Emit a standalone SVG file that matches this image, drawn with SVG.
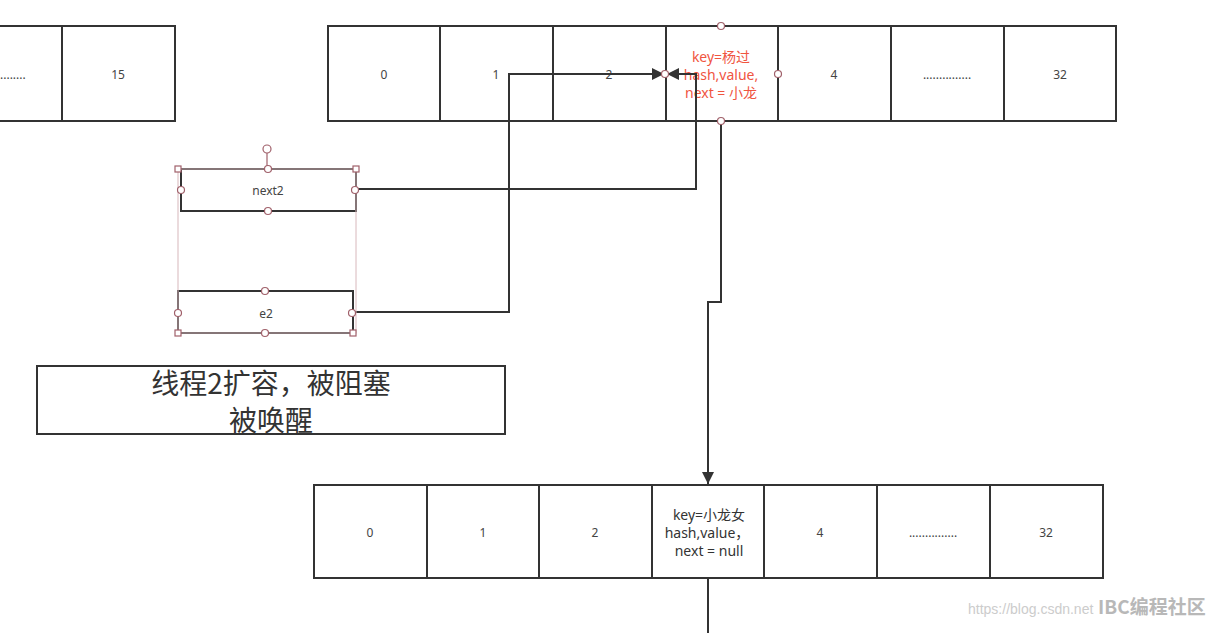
<svg xmlns="http://www.w3.org/2000/svg" width="1219" height="633" viewBox="0 0 1219 633">
<style>
.cell{fill:#fff;stroke:#333;stroke-width:2}
.t{font-family:"Noto Sans","Noto Sans CJK SC",sans-serif;font-size:12px;fill:#444;text-anchor:middle;dominant-baseline:central}
.red{fill:#f0553f;font-size:14px}
.dk{fill:#333;font-size:14px}
.big{font-family:"Noto Sans CJK SC",sans-serif;font-size:28px;fill:#333;text-anchor:middle;dominant-baseline:central}
.conn{fill:none;stroke:#333;stroke-width:2}
.h{fill:#fff;stroke:#a0606a;stroke-width:1.2}
.sel{fill:none;stroke:#d8b8bc;stroke-width:1}
</style>
<defs>
<marker id="arr2" viewBox="0 0 10 10" refX="10" refY="5" markerWidth="14" markerHeight="12" markerUnits="userSpaceOnUse" orient="auto"><path d="M0,0 L10,5 L0,10 z" fill="#333"/></marker>
</defs>
<rect width="1219" height="633" fill="#fff"/>

<g id="left-row">
<rect class="cell" x="-10" y="26" width="72" height="95"/>
<text class="t" x="0" y="74" style="text-anchor:start">........</text>
<rect class="cell" x="62" y="26" width="113" height="95"/>
<text class="t" x="118" y="74">15</text>
</g>

<g id="top-row">
<rect class="cell" x="328" y="26" width="112" height="95"/><text class="t" x="384" y="74">0</text>
<rect class="cell" x="440" y="26" width="113" height="95"/><text class="t" x="496" y="74">1</text>
<rect class="cell" x="553" y="26" width="113" height="95"/><text class="t" x="609" y="74">2</text>
<rect class="cell" x="666" y="26" width="112" height="95"/>
<text class="t red" x="721" y="56">key=杨过</text>
<text class="t red" x="721" y="74">hash,value,</text>
<text class="t red" x="721" y="92">next = 小龙</text>
<rect class="cell" x="778" y="26" width="113" height="95"/><text class="t" x="834" y="74">4</text>
<rect class="cell" x="891" y="26" width="113" height="95"/><text class="t" x="947" y="74">...............</text>
<rect class="cell" x="1004" y="26" width="112" height="95"/><text class="t" x="1060" y="74">32</text>
</g>

<g id="bottom-row">
<rect class="cell" x="314" y="485" width="113" height="93"/><text class="t" x="370" y="532">0</text>
<rect class="cell" x="427" y="485" width="112" height="93"/><text class="t" x="483" y="532">1</text>
<rect class="cell" x="539" y="485" width="113" height="93"/><text class="t" x="595" y="532">2</text>
<rect class="cell" x="652" y="485" width="112" height="93"/>
<text class="t dk" x="709" y="514">key=小龙女</text>
<text class="t dk" x="707" y="532">hash,value，</text>
<text class="t dk" x="709" y="550">next = null</text>
<rect class="cell" x="764" y="485" width="113" height="93"/><text class="t" x="820" y="532">4</text>
<rect class="cell" x="877" y="485" width="113" height="93"/><text class="t" x="933" y="532">...............</text>
<rect class="cell" x="990" y="485" width="113" height="93"/><text class="t" x="1046" y="532">32</text>
</g>

<g id="connectors">
<path class="conn" d="M353,312 H509 V74 H664" marker-end="url(#arr2)"/>
<path class="conn" d="M356,189 H696 V74 H667" marker-end="url(#arr2)"/>
<path class="conn" d="M721,121 V302 H708 V484" marker-end="url(#arr2)"/>
<path class="conn" d="M708,578 V633"/>
</g>

<g id="next2">
<rect class="cell" x="181" y="169" width="175" height="42"/>
<text class="t" x="268" y="190">next2</text>
</g>
<g id="e2">
<rect class="cell" x="178" y="291" width="175" height="42"/>
<text class="t" x="266" y="313">e2</text>
</g>

<g id="selection">
<rect class="sel" x="178" y="169" width="178" height="164"/>
<line x1="267" y1="153" x2="267" y2="169" stroke="#a0606a" stroke-width="1.2"/>
<circle class="h" cx="267" cy="149" r="4"/>
<rect class="h" x="175" y="166" width="6" height="6"/>
<rect class="h" x="353" y="166" width="6" height="6"/>
<rect class="h" x="175" y="330" width="6" height="6"/>
<rect class="h" x="350" y="330" width="6" height="6"/>
<circle class="h" cx="268" cy="169" r="3.5"/>
<circle class="h" cx="181" cy="190" r="3.5"/>
<circle class="h" cx="355" cy="190" r="3.5"/>
<circle class="h" cx="268" cy="211" r="3.5"/>
<circle class="h" cx="265" cy="291" r="3.5"/>
<circle class="h" cx="178" cy="313" r="3.5"/>
<circle class="h" cx="352" cy="313" r="3.5"/>
<circle class="h" cx="265" cy="333" r="3.5"/>
</g>

<g id="cell-handles">
<circle class="h" cx="721" cy="26" r="3.5"/>
<circle class="h" cx="665" cy="74" r="3.5"/>
<circle class="h" cx="778" cy="74" r="3.5"/>
<circle class="h" cx="721" cy="121" r="3.5"/>
</g>

<g id="note">
<rect x="37" y="366" width="468" height="68" fill="#fff" stroke="#333" stroke-width="2"/>
<text class="big" x="271" y="382">线程2扩容，被阻塞</text>
<text class="big" x="271" y="419">被唤醒</text>
</g>

<g id="watermark">
<text x="968" y="614" font-family="Liberation Sans,sans-serif" font-size="14" fill="#ccc">https://blog.csdn.net</text>
<text x="1098" y="614" font-family="Noto Sans CJK SC,sans-serif" font-size="19" font-weight="bold" fill="#b8b8b8">IBC编程社区</text>
</g>
</svg>
